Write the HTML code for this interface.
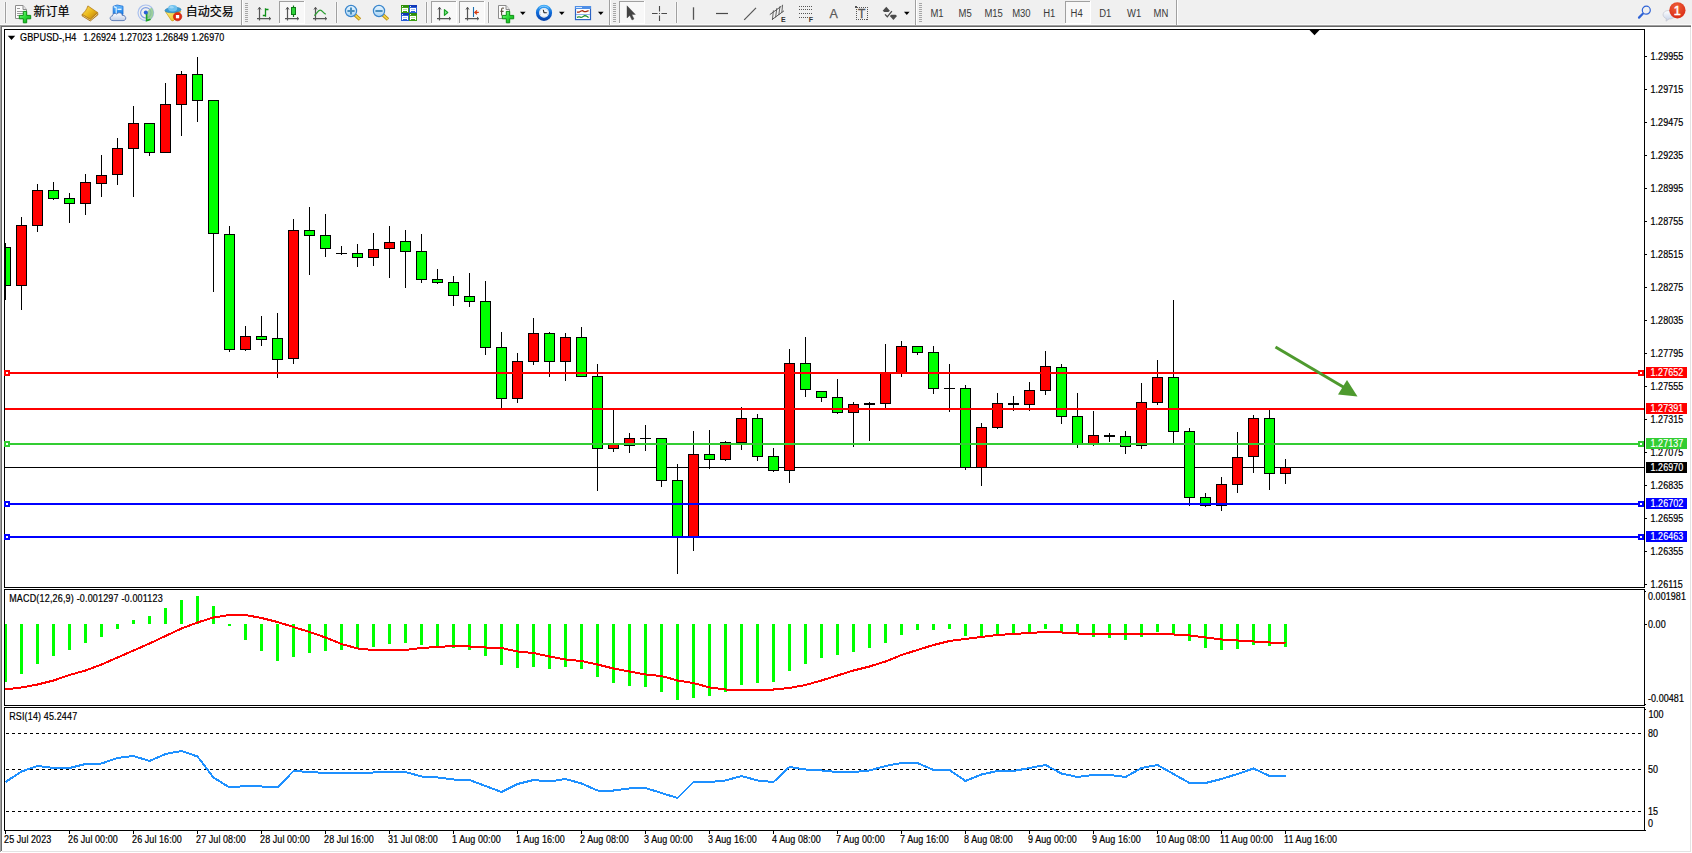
<!DOCTYPE html>
<html lang="zh"><head><meta charset="utf-8"><title>GBPUSD-,H4</title>
<style>
html,body{margin:0;padding:0;background:#fff;}
body{width:1692px;height:853px;overflow:hidden;position:relative;font-family:"Liberation Sans", "Noto Sans CJK SC", sans-serif;}
svg{position:absolute;left:0;top:0;display:block;}
.cr{shape-rendering:crispEdges;}
text{font-family:"Liberation Sans", "Noto Sans CJK SC", sans-serif;}
.ax{font-size:9px;fill:#000;stroke:#000;stroke-width:.18px;letter-spacing:.06px;}
.lb{font-size:9px;fill:#fff;stroke:#fff;stroke-width:.15px;letter-spacing:.06px;}
.tb{font-size:12px;fill:#000;stroke:#000;stroke-width:.2px;}
.pd{font-size:9.5px;fill:#3a3a3a;}
</style></head><body>
<svg width="1692" height="853" viewBox="0 0 1692 853">
<g class="cr">
<rect x="0" y="0" width="1692" height="853" fill="#fff"/>
<rect x="0" y="0" width="1692" height="25" fill="#f0f0f0"/>
<rect x="0" y="24" width="1692" height="1" fill="#fafafa"/>
<rect x="0" y="25" width="1691" height="1" fill="#a0a0a0"/>
<rect x="0" y="26" width="1691" height="1" fill="#696969"/>
<rect x="0" y="25" width="1" height="827" fill="#a0a0a0"/>
<rect x="1" y="26" width="1" height="825" fill="#696969"/>
<rect x="1690" y="27" width="1" height="825" fill="#e3e3e3"/>
<rect x="2" y="851" width="1689" height="1" fill="#e3e3e3"/>
<rect x="4.5" y="29.5" width="1640" height="558" fill="none" stroke="#000" stroke-width="1"/>
<rect x="4.5" y="589.5" width="1640" height="116" fill="none" stroke="#000" stroke-width="1"/>
<rect x="4.5" y="707.5" width="1640" height="123" fill="none" stroke="#000" stroke-width="1"/>
</g>
<g class="cr" fill="#000">
<rect x="1645" y="56" width="2" height="1"/>
<rect x="1645" y="89" width="2" height="1"/>
<rect x="1645" y="122" width="2" height="1"/>
<rect x="1645" y="155" width="2" height="1"/>
<rect x="1645" y="188" width="2" height="1"/>
<rect x="1645" y="221" width="2" height="1"/>
<rect x="1645" y="254" width="2" height="1"/>
<rect x="1645" y="287" width="2" height="1"/>
<rect x="1645" y="320" width="2" height="1"/>
<rect x="1645" y="353" width="2" height="1"/>
<rect x="1645" y="386" width="2" height="1"/>
<rect x="1645" y="419" width="2" height="1"/>
<rect x="1645" y="452" width="2" height="1"/>
<rect x="1645" y="485" width="2" height="1"/>
<rect x="1645" y="518" width="2" height="1"/>
<rect x="1645" y="551" width="2" height="1"/>
<rect x="1645" y="584" width="2" height="1"/>
<rect x="1645" y="624" width="2" height="1"/>
<rect x="1645" y="591" width="1" height="1"/><rect x="1645" y="704" width="1" height="1"/><rect x="1645" y="709" width="1" height="1"/><rect x="1645" y="830" width="1" height="1"/>
</g>
<g class="ax">
<text transform="translate(1650.5 59.9) scale(1 1.15)">1.29955</text>
<text transform="translate(1650.5 92.9) scale(1 1.15)">1.29715</text>
<text transform="translate(1650.5 125.9) scale(1 1.15)">1.29475</text>
<text transform="translate(1650.5 158.9) scale(1 1.15)">1.29235</text>
<text transform="translate(1650.5 191.9) scale(1 1.15)">1.28995</text>
<text transform="translate(1650.5 224.9) scale(1 1.15)">1.28755</text>
<text transform="translate(1650.5 257.9) scale(1 1.15)">1.28515</text>
<text transform="translate(1650.5 290.9) scale(1 1.15)">1.28275</text>
<text transform="translate(1650.5 323.9) scale(1 1.15)">1.28035</text>
<text transform="translate(1650.5 356.9) scale(1 1.15)">1.27795</text>
<text transform="translate(1650.5 389.9) scale(1 1.15)">1.27555</text>
<text transform="translate(1650.5 422.9) scale(1 1.15)">1.27315</text>
<text transform="translate(1650.5 455.9) scale(1 1.15)">1.27075</text>
<text transform="translate(1650.5 488.9) scale(1 1.15)">1.26835</text>
<text transform="translate(1650.5 521.9) scale(1 1.15)">1.26595</text>
<text transform="translate(1650.5 554.9) scale(1 1.15)">1.26355</text>
<text transform="translate(1650.5 587.9) scale(1 1.15)">1.26115</text>
<text transform="translate(1648 600.3) scale(1 1.15)">0.001981</text>
<text transform="translate(1648 628.2) scale(1 1.15)">0.00</text>
<text transform="translate(1648 702.3) scale(1 1.15)">-0.00481</text>
<text transform="translate(1648.5 718.3) scale(1 1.15)">100</text>
<text transform="translate(1648 737.2) scale(1 1.15)">80</text>
<text transform="translate(1648 773.3) scale(1 1.15)">50</text>
<text transform="translate(1648 815.3) scale(1 1.15)">15</text>
<text transform="translate(1648 827.3) scale(1 1.15)">0</text>
</g>
<g class="cr" fill="#000">
<rect x="5" y="831" width="1" height="3"/>
<rect x="69" y="831" width="1" height="3"/>
<rect x="133" y="831" width="1" height="3"/>
<rect x="197" y="831" width="1" height="3"/>
<rect x="261" y="831" width="1" height="3"/>
<rect x="325" y="831" width="1" height="3"/>
<rect x="389" y="831" width="1" height="3"/>
<rect x="453" y="831" width="1" height="3"/>
<rect x="517" y="831" width="1" height="3"/>
<rect x="581" y="831" width="1" height="3"/>
<rect x="645" y="831" width="1" height="3"/>
<rect x="709" y="831" width="1" height="3"/>
<rect x="773" y="831" width="1" height="3"/>
<rect x="837" y="831" width="1" height="3"/>
<rect x="901" y="831" width="1" height="3"/>
<rect x="965" y="831" width="1" height="3"/>
<rect x="1029" y="831" width="1" height="3"/>
<rect x="1093" y="831" width="1" height="3"/>
<rect x="1157" y="831" width="1" height="3"/>
<rect x="1221" y="831" width="1" height="3"/>
<rect x="1285" y="831" width="1" height="3"/>
</g>
<g class="ax">
<text transform="translate(4.1 843.3) scale(1 1.15)">25 Jul 2023</text>
<text transform="translate(68.1 843.3) scale(1 1.15)">26 Jul 00:00</text>
<text transform="translate(132.1 843.3) scale(1 1.15)">26 Jul 16:00</text>
<text transform="translate(196.1 843.3) scale(1 1.15)">27 Jul 08:00</text>
<text transform="translate(260.1 843.3) scale(1 1.15)">28 Jul 00:00</text>
<text transform="translate(324.1 843.3) scale(1 1.15)">28 Jul 16:00</text>
<text transform="translate(388.1 843.3) scale(1 1.15)">31 Jul 08:00</text>
<text transform="translate(452.1 843.3) scale(1 1.15)">1 Aug 00:00</text>
<text transform="translate(516.1 843.3) scale(1 1.15)">1 Aug 16:00</text>
<text transform="translate(580.1 843.3) scale(1 1.15)">2 Aug 08:00</text>
<text transform="translate(644.1 843.3) scale(1 1.15)">3 Aug 00:00</text>
<text transform="translate(708.1 843.3) scale(1 1.15)">3 Aug 16:00</text>
<text transform="translate(772.1 843.3) scale(1 1.15)">4 Aug 08:00</text>
<text transform="translate(836.1 843.3) scale(1 1.15)">7 Aug 00:00</text>
<text transform="translate(900.1 843.3) scale(1 1.15)">7 Aug 16:00</text>
<text transform="translate(964.1 843.3) scale(1 1.15)">8 Aug 08:00</text>
<text transform="translate(1028.1 843.3) scale(1 1.15)">9 Aug 00:00</text>
<text transform="translate(1092.1 843.3) scale(1 1.15)">9 Aug 16:00</text>
<text transform="translate(1156.1 843.3) scale(1 1.15)">10 Aug 08:00</text>
<text transform="translate(1220.1 843.3) scale(1 1.15)">11 Aug 00:00</text>
<text transform="translate(1284.1 843.3) scale(1 1.15)">11 Aug 16:00</text>
</g>
<g class="cr">
<rect x="5" y="467" width="1639" height="1" fill="#000"/>
<rect x="5" y="243" width="1" height="57" fill="#000"/>
<rect x="5" y="247" width="6" height="39" fill="#000"/>
<rect x="6" y="248" width="4" height="37" fill="#00ff00"/>
<rect x="21" y="217" width="1" height="93" fill="#000"/>
<rect x="16" y="225" width="11" height="61" fill="#000"/>
<rect x="17" y="226" width="9" height="59" fill="#ff0000"/>
<rect x="37" y="184" width="1" height="48" fill="#000"/>
<rect x="32" y="190" width="11" height="36" fill="#000"/>
<rect x="33" y="191" width="9" height="34" fill="#ff0000"/>
<rect x="53" y="182" width="1" height="18" fill="#000"/>
<rect x="48" y="190" width="11" height="9" fill="#000"/>
<rect x="49" y="191" width="9" height="7" fill="#00ff00"/>
<rect x="69" y="193" width="1" height="30" fill="#000"/>
<rect x="64" y="198" width="11" height="6" fill="#000"/>
<rect x="65" y="199" width="9" height="4" fill="#00ff00"/>
<rect x="85" y="174" width="1" height="41" fill="#000"/>
<rect x="80" y="182" width="11" height="22" fill="#000"/>
<rect x="81" y="183" width="9" height="20" fill="#ff0000"/>
<rect x="101" y="155" width="1" height="42" fill="#000"/>
<rect x="96" y="175" width="11" height="9" fill="#000"/>
<rect x="97" y="176" width="9" height="7" fill="#ff0000"/>
<rect x="117" y="138" width="1" height="47" fill="#000"/>
<rect x="112" y="148" width="11" height="27" fill="#000"/>
<rect x="113" y="149" width="9" height="25" fill="#ff0000"/>
<rect x="133" y="106" width="1" height="91" fill="#000"/>
<rect x="128" y="123" width="11" height="26" fill="#000"/>
<rect x="129" y="124" width="9" height="24" fill="#ff0000"/>
<rect x="149" y="123" width="1" height="33" fill="#000"/>
<rect x="144" y="123" width="11" height="30" fill="#000"/>
<rect x="145" y="124" width="9" height="28" fill="#00ff00"/>
<rect x="165" y="83" width="1" height="70" fill="#000"/>
<rect x="160" y="104" width="11" height="49" fill="#000"/>
<rect x="161" y="105" width="9" height="47" fill="#ff0000"/>
<rect x="181" y="71" width="1" height="65" fill="#000"/>
<rect x="176" y="74" width="11" height="31" fill="#000"/>
<rect x="177" y="75" width="9" height="29" fill="#ff0000"/>
<rect x="197" y="57" width="1" height="65" fill="#000"/>
<rect x="192" y="74" width="11" height="27" fill="#000"/>
<rect x="193" y="75" width="9" height="25" fill="#00ff00"/>
<rect x="213" y="100" width="1" height="192" fill="#000"/>
<rect x="208" y="100" width="11" height="134" fill="#000"/>
<rect x="209" y="101" width="9" height="132" fill="#00ff00"/>
<rect x="229" y="226" width="1" height="126" fill="#000"/>
<rect x="224" y="234" width="11" height="116" fill="#000"/>
<rect x="225" y="235" width="9" height="114" fill="#00ff00"/>
<rect x="245" y="326" width="1" height="25" fill="#000"/>
<rect x="240" y="336" width="11" height="14" fill="#000"/>
<rect x="241" y="337" width="9" height="12" fill="#ff0000"/>
<rect x="261" y="316" width="1" height="30" fill="#000"/>
<rect x="256" y="336" width="11" height="4" fill="#000"/>
<rect x="257" y="337" width="9" height="2" fill="#00ff00"/>
<rect x="277" y="313" width="1" height="65" fill="#000"/>
<rect x="272" y="338" width="11" height="22" fill="#000"/>
<rect x="273" y="339" width="9" height="20" fill="#00ff00"/>
<rect x="293" y="219" width="1" height="145" fill="#000"/>
<rect x="288" y="230" width="11" height="129" fill="#000"/>
<rect x="289" y="231" width="9" height="127" fill="#ff0000"/>
<rect x="309" y="207" width="1" height="68" fill="#000"/>
<rect x="304" y="230" width="11" height="6" fill="#000"/>
<rect x="305" y="231" width="9" height="4" fill="#00ff00"/>
<rect x="325" y="214" width="1" height="43" fill="#000"/>
<rect x="320" y="235" width="11" height="14" fill="#000"/>
<rect x="321" y="236" width="9" height="12" fill="#00ff00"/>
<rect x="341" y="246" width="1" height="9" fill="#000"/>
<rect x="336" y="253" width="11" height="1" fill="#000"/>
<rect x="357" y="244" width="1" height="23" fill="#000"/>
<rect x="352" y="253" width="11" height="5" fill="#000"/>
<rect x="353" y="254" width="9" height="3" fill="#00ff00"/>
<rect x="373" y="233" width="1" height="33" fill="#000"/>
<rect x="368" y="249" width="11" height="9" fill="#000"/>
<rect x="369" y="250" width="9" height="7" fill="#ff0000"/>
<rect x="389" y="226" width="1" height="52" fill="#000"/>
<rect x="384" y="242" width="11" height="7" fill="#000"/>
<rect x="385" y="243" width="9" height="5" fill="#ff0000"/>
<rect x="405" y="230" width="1" height="58" fill="#000"/>
<rect x="400" y="241" width="11" height="11" fill="#000"/>
<rect x="401" y="242" width="9" height="9" fill="#00ff00"/>
<rect x="421" y="234" width="1" height="49" fill="#000"/>
<rect x="416" y="251" width="11" height="29" fill="#000"/>
<rect x="417" y="252" width="9" height="27" fill="#00ff00"/>
<rect x="437" y="269" width="1" height="15" fill="#000"/>
<rect x="432" y="279" width="11" height="4" fill="#000"/>
<rect x="433" y="280" width="9" height="2" fill="#00ff00"/>
<rect x="453" y="276" width="1" height="30" fill="#000"/>
<rect x="448" y="282" width="11" height="14" fill="#000"/>
<rect x="449" y="283" width="9" height="12" fill="#00ff00"/>
<rect x="469" y="273" width="1" height="34" fill="#000"/>
<rect x="464" y="296" width="11" height="6" fill="#000"/>
<rect x="465" y="297" width="9" height="4" fill="#00ff00"/>
<rect x="485" y="281" width="1" height="74" fill="#000"/>
<rect x="480" y="301" width="11" height="47" fill="#000"/>
<rect x="481" y="302" width="9" height="45" fill="#00ff00"/>
<rect x="501" y="332" width="1" height="76" fill="#000"/>
<rect x="496" y="347" width="11" height="52" fill="#000"/>
<rect x="497" y="348" width="9" height="50" fill="#00ff00"/>
<rect x="517" y="353" width="1" height="50" fill="#000"/>
<rect x="512" y="361" width="11" height="38" fill="#000"/>
<rect x="513" y="362" width="9" height="36" fill="#ff0000"/>
<rect x="533" y="318" width="1" height="47" fill="#000"/>
<rect x="528" y="333" width="11" height="29" fill="#000"/>
<rect x="529" y="334" width="9" height="27" fill="#ff0000"/>
<rect x="549" y="332" width="1" height="45" fill="#000"/>
<rect x="544" y="333" width="11" height="29" fill="#000"/>
<rect x="545" y="334" width="9" height="27" fill="#00ff00"/>
<rect x="565" y="333" width="1" height="48" fill="#000"/>
<rect x="560" y="337" width="11" height="25" fill="#000"/>
<rect x="561" y="338" width="9" height="23" fill="#ff0000"/>
<rect x="581" y="327" width="1" height="50" fill="#000"/>
<rect x="576" y="337" width="11" height="40" fill="#000"/>
<rect x="577" y="338" width="9" height="38" fill="#00ff00"/>
<rect x="597" y="364" width="1" height="127" fill="#000"/>
<rect x="592" y="376" width="11" height="73" fill="#000"/>
<rect x="593" y="377" width="9" height="71" fill="#00ff00"/>
<rect x="613" y="410" width="1" height="42" fill="#000"/>
<rect x="608" y="444" width="11" height="5" fill="#000"/>
<rect x="609" y="445" width="9" height="3" fill="#ff0000"/>
<rect x="629" y="433" width="1" height="20" fill="#000"/>
<rect x="624" y="438" width="11" height="8" fill="#000"/>
<rect x="625" y="439" width="9" height="6" fill="#ff0000"/>
<rect x="645" y="425" width="1" height="26" fill="#000"/>
<rect x="640" y="438" width="11" height="1" fill="#000"/>
<rect x="661" y="438" width="1" height="49" fill="#000"/>
<rect x="656" y="438" width="11" height="43" fill="#000"/>
<rect x="657" y="439" width="9" height="41" fill="#00ff00"/>
<rect x="677" y="464" width="1" height="110" fill="#000"/>
<rect x="672" y="480" width="11" height="57" fill="#000"/>
<rect x="673" y="481" width="9" height="55" fill="#00ff00"/>
<rect x="693" y="431" width="1" height="120" fill="#000"/>
<rect x="688" y="454" width="11" height="83" fill="#000"/>
<rect x="689" y="455" width="9" height="81" fill="#ff0000"/>
<rect x="709" y="430" width="1" height="39" fill="#000"/>
<rect x="704" y="454" width="11" height="6" fill="#000"/>
<rect x="705" y="455" width="9" height="4" fill="#00ff00"/>
<rect x="725" y="441" width="1" height="20" fill="#000"/>
<rect x="720" y="442" width="11" height="18" fill="#000"/>
<rect x="721" y="443" width="9" height="16" fill="#ff0000"/>
<rect x="741" y="407" width="1" height="43" fill="#000"/>
<rect x="736" y="418" width="11" height="25" fill="#000"/>
<rect x="737" y="419" width="9" height="23" fill="#ff0000"/>
<rect x="757" y="414" width="1" height="47" fill="#000"/>
<rect x="752" y="418" width="11" height="39" fill="#000"/>
<rect x="753" y="419" width="9" height="37" fill="#00ff00"/>
<rect x="773" y="448" width="1" height="24" fill="#000"/>
<rect x="768" y="456" width="11" height="15" fill="#000"/>
<rect x="769" y="457" width="9" height="13" fill="#00ff00"/>
<rect x="789" y="349" width="1" height="134" fill="#000"/>
<rect x="784" y="363" width="11" height="108" fill="#000"/>
<rect x="785" y="364" width="9" height="106" fill="#ff0000"/>
<rect x="805" y="337" width="1" height="60" fill="#000"/>
<rect x="800" y="363" width="11" height="27" fill="#000"/>
<rect x="801" y="364" width="9" height="25" fill="#00ff00"/>
<rect x="821" y="391" width="1" height="11" fill="#000"/>
<rect x="816" y="391" width="11" height="7" fill="#000"/>
<rect x="817" y="392" width="9" height="5" fill="#00ff00"/>
<rect x="837" y="379" width="1" height="35" fill="#000"/>
<rect x="832" y="397" width="11" height="16" fill="#000"/>
<rect x="833" y="398" width="9" height="14" fill="#00ff00"/>
<rect x="853" y="402" width="1" height="45" fill="#000"/>
<rect x="848" y="404" width="11" height="9" fill="#000"/>
<rect x="849" y="405" width="9" height="7" fill="#ff0000"/>
<rect x="869" y="402" width="1" height="39" fill="#000"/>
<rect x="864" y="403" width="11" height="2" fill="#000"/>
<rect x="885" y="344" width="1" height="64" fill="#000"/>
<rect x="880" y="372" width="11" height="32" fill="#000"/>
<rect x="881" y="373" width="9" height="30" fill="#ff0000"/>
<rect x="901" y="341" width="1" height="36" fill="#000"/>
<rect x="896" y="346" width="11" height="27" fill="#000"/>
<rect x="897" y="347" width="9" height="25" fill="#ff0000"/>
<rect x="917" y="346" width="1" height="9" fill="#000"/>
<rect x="912" y="346" width="11" height="7" fill="#000"/>
<rect x="913" y="347" width="9" height="5" fill="#00ff00"/>
<rect x="933" y="346" width="1" height="48" fill="#000"/>
<rect x="928" y="352" width="11" height="37" fill="#000"/>
<rect x="929" y="353" width="9" height="35" fill="#00ff00"/>
<rect x="949" y="364" width="1" height="48" fill="#000"/>
<rect x="944" y="388" width="11" height="1" fill="#000"/>
<rect x="965" y="385" width="1" height="85" fill="#000"/>
<rect x="960" y="388" width="11" height="80" fill="#000"/>
<rect x="961" y="389" width="9" height="78" fill="#00ff00"/>
<rect x="981" y="423" width="1" height="63" fill="#000"/>
<rect x="976" y="427" width="11" height="41" fill="#000"/>
<rect x="977" y="428" width="9" height="39" fill="#ff0000"/>
<rect x="997" y="393" width="1" height="36" fill="#000"/>
<rect x="992" y="403" width="11" height="25" fill="#000"/>
<rect x="993" y="404" width="9" height="23" fill="#ff0000"/>
<rect x="1013" y="396" width="1" height="15" fill="#000"/>
<rect x="1008" y="403" width="11" height="2" fill="#000"/>
<rect x="1029" y="382" width="1" height="29" fill="#000"/>
<rect x="1024" y="390" width="11" height="15" fill="#000"/>
<rect x="1025" y="391" width="9" height="13" fill="#ff0000"/>
<rect x="1045" y="351" width="1" height="44" fill="#000"/>
<rect x="1040" y="366" width="11" height="25" fill="#000"/>
<rect x="1041" y="367" width="9" height="23" fill="#ff0000"/>
<rect x="1061" y="364" width="1" height="60" fill="#000"/>
<rect x="1056" y="367" width="11" height="50" fill="#000"/>
<rect x="1057" y="368" width="9" height="48" fill="#00ff00"/>
<rect x="1077" y="393" width="1" height="55" fill="#000"/>
<rect x="1072" y="416" width="11" height="28" fill="#000"/>
<rect x="1073" y="417" width="9" height="26" fill="#00ff00"/>
<rect x="1093" y="411" width="1" height="35" fill="#000"/>
<rect x="1088" y="435" width="11" height="9" fill="#000"/>
<rect x="1089" y="436" width="9" height="7" fill="#ff0000"/>
<rect x="1109" y="433" width="1" height="9" fill="#000"/>
<rect x="1104" y="435" width="11" height="2" fill="#000"/>
<rect x="1125" y="431" width="1" height="23" fill="#000"/>
<rect x="1120" y="436" width="11" height="11" fill="#000"/>
<rect x="1121" y="437" width="9" height="9" fill="#00ff00"/>
<rect x="1141" y="383" width="1" height="66" fill="#000"/>
<rect x="1136" y="402" width="11" height="44" fill="#000"/>
<rect x="1137" y="403" width="9" height="42" fill="#ff0000"/>
<rect x="1157" y="360" width="1" height="45" fill="#000"/>
<rect x="1152" y="377" width="11" height="26" fill="#000"/>
<rect x="1153" y="378" width="9" height="24" fill="#ff0000"/>
<rect x="1173" y="300" width="1" height="143" fill="#000"/>
<rect x="1168" y="377" width="11" height="55" fill="#000"/>
<rect x="1169" y="378" width="9" height="53" fill="#00ff00"/>
<rect x="1189" y="428" width="1" height="78" fill="#000"/>
<rect x="1184" y="431" width="11" height="67" fill="#000"/>
<rect x="1185" y="432" width="9" height="65" fill="#00ff00"/>
<rect x="1205" y="493" width="1" height="14" fill="#000"/>
<rect x="1200" y="497" width="11" height="9" fill="#000"/>
<rect x="1201" y="498" width="9" height="7" fill="#00ff00"/>
<rect x="1221" y="477" width="1" height="34" fill="#000"/>
<rect x="1216" y="484" width="11" height="22" fill="#000"/>
<rect x="1217" y="485" width="9" height="20" fill="#ff0000"/>
<rect x="1237" y="432" width="1" height="61" fill="#000"/>
<rect x="1232" y="457" width="11" height="28" fill="#000"/>
<rect x="1233" y="458" width="9" height="26" fill="#ff0000"/>
<rect x="1253" y="415" width="1" height="58" fill="#000"/>
<rect x="1248" y="418" width="11" height="39" fill="#000"/>
<rect x="1249" y="419" width="9" height="37" fill="#ff0000"/>
<rect x="1269" y="410" width="1" height="80" fill="#000"/>
<rect x="1264" y="418" width="11" height="56" fill="#000"/>
<rect x="1265" y="419" width="9" height="54" fill="#00ff00"/>
<rect x="1285" y="459" width="1" height="25" fill="#000"/>
<rect x="1280" y="467" width="11" height="7" fill="#000"/>
<rect x="1281" y="468" width="9" height="5" fill="#ff0000"/>
<rect x="5" y="372" width="1639" height="2" fill="#ff0000"/>
<rect x="4" y="370" width="6" height="6" fill="#ff0000"/>
<rect x="6" y="372" width="2" height="2" fill="#fff"/>
<rect x="1638" y="370" width="6" height="6" fill="#ff0000"/>
<rect x="1640" y="372" width="2" height="2" fill="#fff"/>
<rect x="5" y="408" width="1639" height="2" fill="#ff0000"/>
<rect x="5" y="443" width="1639" height="2" fill="#32cd32"/>
<rect x="4" y="441" width="6" height="6" fill="#32cd32"/>
<rect x="6" y="443" width="2" height="2" fill="#fff"/>
<rect x="1638" y="441" width="6" height="6" fill="#32cd32"/>
<rect x="1640" y="443" width="2" height="2" fill="#fff"/>
<rect x="5" y="503" width="1639" height="2" fill="#0000ff"/>
<rect x="4" y="501" width="6" height="6" fill="#0000ff"/>
<rect x="6" y="503" width="2" height="2" fill="#fff"/>
<rect x="1638" y="501" width="6" height="6" fill="#0000ff"/>
<rect x="1640" y="503" width="2" height="2" fill="#fff"/>
<rect x="5" y="536" width="1639" height="2" fill="#0000ff"/>
<rect x="4" y="534" width="6" height="6" fill="#0000ff"/>
<rect x="6" y="536" width="2" height="2" fill="#fff"/>
<rect x="1638" y="534" width="6" height="6" fill="#0000ff"/>
<rect x="1640" y="536" width="2" height="2" fill="#fff"/>
<rect x="1646" y="367" width="41" height="11" fill="#ff0000"/>
<rect x="1646" y="403" width="41" height="11" fill="#ff0000"/>
<rect x="1646" y="438" width="41" height="11" fill="#32cd32"/>
<rect x="1646" y="462" width="41" height="11" fill="#000"/>
<rect x="1646" y="498" width="41" height="11" fill="#0000ff"/>
<rect x="1646" y="531" width="41" height="11" fill="#0000ff"/>
</g>
<path d="M1309.5 30 L1319.5 30 L1314.5 35.3 Z" fill="#000"/>
<g class="lb">
<text transform="translate(1650.5 376.1) scale(1 1.15)">1.27652</text>
<text transform="translate(1650.5 412.1) scale(1 1.15)">1.27391</text>
<text transform="translate(1650.5 447.1) scale(1 1.15)">1.27137</text>
<text transform="translate(1650.5 471.1) scale(1 1.15)">1.26970</text>
<text transform="translate(1650.5 507.1) scale(1 1.15)">1.26702</text>
<text transform="translate(1650.5 540.1) scale(1 1.15)">1.26463</text>
</g>
<path d="M7.8 35.8 L15.2 35.8 L11.5 40 Z" fill="#000"/>
<g class="ax">
<text transform="translate(20 40.7) scale(1 1.15)" textLength="56.5" lengthAdjust="spacingAndGlyphs">GBPUSD-,H4</text>
<text transform="translate(83.2 40.7) scale(1 1.15)">1.26924</text>
<text transform="translate(119.4 40.7) scale(1 1.15)">1.27023</text>
<text transform="translate(155.4 40.7) scale(1 1.15)">1.26849</text>
<text transform="translate(191.4 40.7) scale(1 1.15)">1.26970</text>
<text transform="translate(9.2 602) scale(1 1.15)" textLength="153.5" lengthAdjust="spacing">MACD(12,26,9) -0.001297 -0.001123</text>
<text transform="translate(9.2 720) scale(1 1.15)" textLength="68" lengthAdjust="spacing">RSI(14) 45.2447</text>
</g>
<g stroke="#4e9a2e" fill="#4e9a2e">
<line x1="1275.5" y1="347" x2="1345" y2="388" stroke-width="3"/>
<path d="M1347 380 L1357.5 396.5 L1338 394.5 Z" stroke="none"/>
</g>
<g class="cr" fill="#00ff00">
<rect x="5" y="624" width="2" height="58"/>
<rect x="20" y="624" width="3" height="50"/>
<rect x="36" y="624" width="3" height="40"/>
<rect x="52" y="624" width="3" height="32"/>
<rect x="68" y="624" width="3" height="26"/>
<rect x="84" y="624" width="3" height="19"/>
<rect x="100" y="624" width="3" height="13"/>
<rect x="116" y="624" width="3" height="5"/>
<rect x="132" y="620" width="3" height="4"/>
<rect x="148" y="616" width="3" height="8"/>
<rect x="164" y="608" width="3" height="16"/>
<rect x="180" y="600" width="3" height="24"/>
<rect x="196" y="596" width="3" height="28"/>
<rect x="212" y="606" width="3" height="18"/>
<rect x="228" y="624" width="3" height="2"/>
<rect x="244" y="624" width="3" height="16"/>
<rect x="260" y="624" width="3" height="27"/>
<rect x="276" y="624" width="3" height="37"/>
<rect x="292" y="624" width="3" height="33"/>
<rect x="308" y="624" width="3" height="29"/>
<rect x="324" y="624" width="3" height="27"/>
<rect x="340" y="624" width="3" height="26"/>
<rect x="356" y="624" width="3" height="24"/>
<rect x="372" y="624" width="3" height="23"/>
<rect x="388" y="624" width="3" height="20"/>
<rect x="404" y="624" width="3" height="19"/>
<rect x="420" y="624" width="3" height="21"/>
<rect x="436" y="624" width="3" height="22"/>
<rect x="452" y="624" width="3" height="24"/>
<rect x="468" y="624" width="3" height="26"/>
<rect x="484" y="624" width="3" height="32"/>
<rect x="500" y="624" width="3" height="41"/>
<rect x="516" y="624" width="3" height="44"/>
<rect x="532" y="624" width="3" height="43"/>
<rect x="548" y="624" width="3" height="45"/>
<rect x="564" y="624" width="3" height="43"/>
<rect x="580" y="624" width="3" height="45"/>
<rect x="596" y="624" width="3" height="53"/>
<rect x="612" y="624" width="3" height="59"/>
<rect x="628" y="624" width="3" height="62"/>
<rect x="644" y="624" width="3" height="63"/>
<rect x="660" y="624" width="3" height="68"/>
<rect x="676" y="624" width="3" height="76"/>
<rect x="692" y="624" width="3" height="74"/>
<rect x="708" y="624" width="3" height="72"/>
<rect x="724" y="624" width="3" height="68"/>
<rect x="740" y="624" width="3" height="61"/>
<rect x="756" y="624" width="3" height="59"/>
<rect x="772" y="624" width="3" height="58"/>
<rect x="788" y="624" width="3" height="47"/>
<rect x="804" y="624" width="3" height="40"/>
<rect x="820" y="624" width="3" height="34"/>
<rect x="836" y="624" width="3" height="31"/>
<rect x="852" y="624" width="3" height="28"/>
<rect x="868" y="624" width="3" height="24"/>
<rect x="884" y="624" width="3" height="19"/>
<rect x="900" y="624" width="3" height="11"/>
<rect x="916" y="624" width="3" height="6"/>
<rect x="932" y="624" width="3" height="6"/>
<rect x="948" y="624" width="3" height="5"/>
<rect x="964" y="624" width="3" height="12"/>
<rect x="980" y="624" width="3" height="13"/>
<rect x="996" y="624" width="3" height="11"/>
<rect x="1012" y="624" width="3" height="10"/>
<rect x="1028" y="624" width="3" height="9"/>
<rect x="1044" y="624" width="3" height="5"/>
<rect x="1060" y="624" width="3" height="8"/>
<rect x="1076" y="624" width="3" height="10"/>
<rect x="1092" y="624" width="3" height="13"/>
<rect x="1108" y="624" width="3" height="14"/>
<rect x="1124" y="624" width="3" height="16"/>
<rect x="1140" y="624" width="3" height="13"/>
<rect x="1156" y="624" width="3" height="8"/>
<rect x="1172" y="624" width="3" height="10"/>
<rect x="1188" y="624" width="3" height="17"/>
<rect x="1204" y="624" width="3" height="24"/>
<rect x="1220" y="624" width="3" height="26"/>
<rect x="1236" y="624" width="3" height="25"/>
<rect x="1252" y="624" width="3" height="21"/>
<rect x="1268" y="624" width="3" height="22"/>
<rect x="1284" y="624" width="3" height="23"/>
</g>
<polyline points="5.5,689.5 21.5,687.5 37.5,684.5 53.5,680.5 69.5,675 85.5,670.5 101.5,664.5 117.5,657.5 133.5,650.5 149.5,643.5 165.5,636 181.5,628.5 197.5,622.5 213.5,617.5 229.5,615 245.5,615 261.5,618 277.5,622 293.5,627 309.5,632 325.5,637.5 341.5,644 357.5,648.5 373.5,650 389.5,650 405.5,650 421.5,648 437.5,647 453.5,646 469.5,646.5 485.5,647.5 501.5,648 517.5,651.5 533.5,653 549.5,656.5 565.5,659.5 581.5,661 597.5,664.5 613.5,668.5 629.5,671.5 645.5,674.5 661.5,676 677.5,680.5 693.5,683 709.5,687.5 725.5,689.5 741.5,689.5 757.5,689.5 773.5,689.5 789.5,688 805.5,685 821.5,680.5 837.5,675.5 853.5,670.5 869.5,666.5 885.5,661.5 901.5,655 917.5,650 933.5,645 949.5,641 965.5,639 981.5,637 997.5,635 1013.5,634 1029.5,633 1045.5,632 1061.5,632.5 1077.5,633.5 1093.5,634 1109.5,634 1125.5,634 1141.5,634 1157.5,634 1173.5,634.5 1189.5,635.5 1205.5,637.5 1221.5,639.5 1237.5,640.5 1253.5,641.5 1269.5,642.5 1285.5,643" fill="none" stroke="#ff0000" stroke-width="2" stroke-linejoin="round" shape-rendering="crispEdges"/>
<g class="cr" stroke="#000" stroke-width="1" stroke-dasharray="3 3">
<line x1="6" y1="733.5" x2="1643" y2="733.5"/>
<line x1="6" y1="769.5" x2="1643" y2="769.5"/>
<line x1="6" y1="811.5" x2="1643" y2="811.5"/>
</g>
<polyline points="5.5,782 21.5,771.5 37.5,766 53.5,768 69.5,768 85.5,764 101.5,763.5 117.5,758 133.5,756 149.5,761 165.5,754 181.5,751 197.5,756.5 213.5,777.5 229.5,787.5 245.5,786 261.5,786.5 277.5,787.5 293.5,771 309.5,772 325.5,773 341.5,773 357.5,773 373.5,772.5 389.5,772 405.5,772 421.5,776.5 437.5,777.5 453.5,779.5 469.5,780 485.5,786 501.5,792 517.5,784 533.5,780 549.5,781.5 565.5,779 581.5,783.5 597.5,790.5 613.5,790.5 629.5,788.5 645.5,788 661.5,793 677.5,798 693.5,782 709.5,782 725.5,780.5 741.5,776 757.5,780.5 773.5,782 789.5,767 805.5,769.5 821.5,770.5 837.5,772 853.5,772 869.5,770.5 885.5,766 901.5,763 917.5,763 933.5,770 949.5,770 965.5,781 981.5,774.5 997.5,771 1013.5,771 1029.5,768 1045.5,765 1061.5,773.5 1077.5,777 1093.5,775 1109.5,775 1125.5,777 1141.5,768 1157.5,765 1173.5,774 1189.5,783 1205.5,783 1221.5,779 1237.5,774 1253.5,768.5 1269.5,776 1285.5,776" fill="none" stroke="#1e90ff" stroke-width="2" stroke-linejoin="round" shape-rendering="crispEdges"/>
<rect class="cr" x="5" y="2" width="1" height="21" fill="#a0a0a0"/>
<rect class="cr" x="6" y="2" width="1" height="21" fill="#f8f8f8"/>
<rect class="cr" x="4" y="2" width="1" height="21" fill="#f6f6f6"/>
<path d="M15.5 5.5 H23 L26.5 9.5 V18.5 H15.5 Z" fill="#fcfcfc" stroke="#8c8c8c" stroke-width="1"/>
<path d="M23 5.5 V9.5 H26.5" fill="#e8e8e8" stroke="#8c8c8c" stroke-width="1"/>
<g class="cr" fill="#9a9a9a"><rect x="17" y="8" width="3" height="1"/><rect x="17" y="11" width="6" height="1"/><rect x="17" y="13" width="6" height="1"/><rect x="17" y="15" width="3" height="1"/></g>
<path d="M23.3 11.4 h3.4 v4 h4 v3.4 h-4 v4 h-3.4 v-4 h-4 v-3.4 h4 Z" fill="url(#plus)" stroke="#0b8f12" stroke-width="1" stroke-linejoin="round"/>
<text class="tb" x="33.4" y="16.3">新订单</text>
<defs><linearGradient id="gold" x1="0" y1="0" x2="1" y2="1"><stop offset="0" stop-color="#ffe36a"/><stop offset=".5" stop-color="#eab91a"/><stop offset="1" stop-color="#b9770a"/></linearGradient><linearGradient id="plus" x1="0" y1="0" x2="1" y2="1"><stop offset="0" stop-color="#9dffa0"/><stop offset=".45" stop-color="#2fe03a"/><stop offset="1" stop-color="#0aa514"/></linearGradient><linearGradient id="gold2" x1="0" y1="0" x2="1" y2="1"><stop offset="0" stop-color="#fff27a"/><stop offset="1" stop-color="#e6b41c"/></linearGradient><linearGradient id="sky" x1="0" y1="0" x2="0" y2="1"><stop offset="0" stop-color="#6fc0ff"/><stop offset="1" stop-color="#1279e6"/></linearGradient><linearGradient id="cloud" x1="0" y1="0" x2="0" y2="1"><stop offset="0" stop-color="#ffffff"/><stop offset="1" stop-color="#c3cfe6"/></linearGradient><radialGradient id="badge" cx=".45" cy=".3" r=".8"><stop offset="0" stop-color="#f0603a"/><stop offset="1" stop-color="#d62410"/></radialGradient><linearGradient id="clk" x1="0" y1="0" x2="0" y2="1"><stop offset="0" stop-color="#3aa4f4"/><stop offset=".5" stop-color="#0f6ad8"/><stop offset="1" stop-color="#0846ae"/></linearGradient><linearGradient id="lens" x1="0" y1="0" x2="0" y2="1"><stop offset="0" stop-color="#e8f6ff"/><stop offset="1" stop-color="#a9d4f5"/></linearGradient></defs>
<path d="M82 14.4 L90.2 19.4 L97.7 12.6 L97.9 14.8 L90.3 21 L82 15.8 Z" fill="#c58a16" stroke="#9a620a" stroke-width=".7" stroke-linejoin="round"/>
<path d="M82.6 15.2 L90.3 20 L97.5 13.8" fill="none" stroke="#f6e3a0" stroke-width=".7"/>
<path d="M87.9 5.9 L97.4 12.4 L90.3 19.2 L82.2 14.3 C84.6 12.4 86.8 9.4 87.9 5.9 Z" fill="url(#gold)" stroke="#b47a0c" stroke-width=".8" stroke-linejoin="round"/>
<path d="M113.2 6.4 L117 5 L123 6.2 V14.4 H113.2 Z" fill="url(#sky)" stroke="#1a6fd6" stroke-width=".8"/>
<path d="M113.8 6.6 L116.2 7.6 V14" fill="none" stroke="#d7efff" stroke-width="1.2"/>
<rect x="117.5" y="8.6" width="4" height="1.4" fill="#e6f4ff"/>
<path d="M113 20.6 C109.2 20.6 109.4 16.2 112.4 16 C112.4 13.6 115.4 12.6 116.8 14.2 C118.2 11.8 122.2 12.6 122.2 15.4 C126.4 14.8 127.2 20.6 123 20.6 Z" fill="url(#cloud)" stroke="#5676b4" stroke-width=".9"/>
<g fill="none" stroke-linecap="round">
<circle cx="145.8" cy="12.8" r="7.8" stroke="#a9c0ee" stroke-width="1.2"/>
<circle cx="145.8" cy="12.8" r="5.2" stroke="#7d9de4" stroke-width="1.2"/>
<path d="M146 12.8 L151.4 7.4 A8 8 0 0 1 146.4 20.8 Z" fill="#8cc88a" stroke="none" opacity=".8"/>
<path d="M146.6 13 V20.6 L150 19.6" stroke="#1fa42a" stroke-width="1.6"/>
<circle cx="145.8" cy="12.4" r="2" fill="#2a5fd8" stroke="none"/>
</g>
<path d="M165.3 11.4 L180.8 11.2 L177.4 17 L173 20.9 L171.4 20.5 Z" fill="url(#gold2)" stroke="#c89a10" stroke-width=".7" stroke-linejoin="round"/>
<ellipse cx="173" cy="10" rx="8.1" ry="2.7" transform="rotate(-4 173 10)" fill="#3a9bd2" stroke="#2a7fb4" stroke-width=".6"/>
<ellipse cx="172.7" cy="8.2" rx="4.5" ry="3.3" fill="#6fc1ee"/>
<ellipse cx="171.6" cy="7.2" rx="2" ry="1.2" fill="#a9ddf8" opacity=".8"/>
<circle cx="177.6" cy="16.6" r="4.2" fill="#e02a12" stroke="#b81c08" stroke-width=".6"/>
<rect x="175.9" y="15" width="3.3" height="3.3" fill="#fff"/>
<text class="tb" x="185.8" y="16.2">自动交易</text>
<rect class="cr" x="241" y="0" width="1" height="25" fill="#a0a0a0"/>
<rect class="cr" x="242" y="0" width="1" height="25" fill="#ffffff"/>
<g class="cr" fill="#a6a6a6">
<rect x="245" y="3" width="3" height="1"/>
<rect x="245" y="5" width="3" height="1"/>
<rect x="245" y="7" width="3" height="1"/>
<rect x="245" y="9" width="3" height="1"/>
<rect x="245" y="11" width="3" height="1"/>
<rect x="245" y="13" width="3" height="1"/>
<rect x="245" y="15" width="3" height="1"/>
<rect x="245" y="17" width="3" height="1"/>
<rect x="245" y="19" width="3" height="1"/>
<rect x="245" y="21" width="3" height="1"/>
</g>
<g stroke="#555" stroke-width="1.2" fill="none" stroke-linecap="butt">
<path d="M259.5 7.5 V20.5 M257 18.6 H270.5"/>
<path d="M258 9.5 L259.5 7.3 L261 9.5 M269 17 L270.8 18.6 L269 20.2" stroke-width="1"/>
</g>
<path d="M265.5 8.3 V16.7 M265.5 9.5 H268.5 M265.5 15.5 H262.8" fill="none" stroke="#0f9018" stroke-width="1.3"/>
<g class="cr">
<rect x="279" y="1" width="26" height="23" fill="#f8f8f8"/>
<rect x="279" y="1" width="26" height="1" fill="#a0a0a0"/>
<rect x="279" y="1" width="1" height="23" fill="#a0a0a0"/>
<rect x="279" y="23" width="26" height="1" fill="#ffffff"/>
<rect x="304" y="1" width="1" height="23" fill="#ffffff"/>
</g>
<g stroke="#555" stroke-width="1.2" fill="none" stroke-linecap="butt">
<path d="M287.5 7.5 V20.5 M285 18.6 H298.5"/>
<path d="M286 9.5 L287.5 7.3 L289 9.5 M297 17 L298.8 18.6 L297 20.2" stroke-width="1"/>
</g>
<path d="M293.5 5.5 V17" stroke="#0f7a17" stroke-width="1.2"/>
<rect x="291.5" y="7.5" width="4" height="7" fill="#2fd43a" stroke="#0f7a17" stroke-width="1"/>
<g stroke="#555" stroke-width="1.2" fill="none" stroke-linecap="butt">
<path d="M315.5 7.5 V20.5 M313 18.6 H326.5"/>
<path d="M314 9.5 L315.5 7.3 L317 9.5 M325 17 L326.8 18.6 L325 20.2" stroke-width="1"/>
</g>
<path d="M314.4 15.6 C316.5 13.6 318.2 10.2 320.2 10.2 C322.4 10.2 323.4 13.4 325.8 14.2" fill="none" stroke="#2e9e35" stroke-width="1.3"/>
<rect class="cr" x="336" y="2" width="1" height="21" fill="#a0a0a0"/>
<rect class="cr" x="337" y="2" width="1" height="21" fill="#f8f8f8"/>
<rect class="cr" x="335" y="2" width="1" height="21" fill="#f6f6f6"/>
<path d="M355 15 L360 19.6" stroke="#b8860b" stroke-width="3.4" stroke-linecap="butt"/>
<path d="M355.3 15.2 L359.8 19.3" stroke="#f0d44a" stroke-width="1.8" stroke-linecap="butt"/>
<circle cx="351" cy="11" r="5.6" fill="url(#lens)" stroke="#3a86cc" stroke-width="1.2"/>
<path d="M347.4 11 H354.6" stroke="#4a8fbf" stroke-width="2"/>
<path d="M351 7.4 V14.6" stroke="#4a8fbf" stroke-width="2"/>
<path d="M383 15 L388 19.6" stroke="#b8860b" stroke-width="3.4" stroke-linecap="butt"/>
<path d="M383.3 15.2 L387.8 19.3" stroke="#f0d44a" stroke-width="1.8" stroke-linecap="butt"/>
<circle cx="379" cy="11" r="5.6" fill="url(#lens)" stroke="#3a86cc" stroke-width="1.2"/>
<path d="M375.4 11 H382.6" stroke="#4a8fbf" stroke-width="2"/>
<rect class="cr" x="401" y="5" width="8" height="8" fill="#3ea016"/>
<rect class="cr" x="401" y="5" width="8" height="2" fill="#2f8f0c"/>
<rect class="cr" x="402" y="6" width="1" height="1" fill="#e8f4e0"/>
<rect class="cr" x="402" y="8" width="6" height="4" fill="#fff"/>
<rect class="cr" x="403" y="9" width="4" height="1" fill="#b5e0a0"/>
<rect class="cr" x="403" y="11" width="4" height="1" fill="#3ea016"/>
<rect class="cr" x="409" y="5" width="8" height="8" fill="#2a5fd8"/>
<rect class="cr" x="409" y="5" width="8" height="2" fill="#1038b8"/>
<rect class="cr" x="410" y="6" width="1" height="1" fill="#e8f4e0"/>
<rect class="cr" x="410" y="8" width="6" height="4" fill="#fff"/>
<rect class="cr" x="411" y="9" width="4" height="1" fill="#a9c0f2"/>
<rect class="cr" x="411" y="11" width="4" height="1" fill="#2a5fd8"/>
<rect class="cr" x="401" y="13" width="8" height="8" fill="#2a5fd8"/>
<rect class="cr" x="401" y="13" width="8" height="2" fill="#1038b8"/>
<rect class="cr" x="402" y="14" width="1" height="1" fill="#e8f4e0"/>
<rect class="cr" x="402" y="16" width="6" height="4" fill="#fff"/>
<rect class="cr" x="403" y="17" width="4" height="1" fill="#a9c0f2"/>
<rect class="cr" x="403" y="19" width="4" height="1" fill="#2a5fd8"/>
<rect class="cr" x="409" y="13" width="8" height="8" fill="#3ea016"/>
<rect class="cr" x="409" y="13" width="8" height="2" fill="#2f8f0c"/>
<rect class="cr" x="410" y="14" width="1" height="1" fill="#e8f4e0"/>
<rect class="cr" x="410" y="16" width="6" height="4" fill="#fff"/>
<rect class="cr" x="411" y="17" width="4" height="1" fill="#b5e0a0"/>
<rect class="cr" x="411" y="19" width="4" height="1" fill="#3ea016"/>
<rect class="cr" x="426" y="2" width="1" height="21" fill="#a0a0a0"/>
<rect class="cr" x="427" y="2" width="1" height="21" fill="#f8f8f8"/>
<rect class="cr" x="425" y="2" width="1" height="21" fill="#f6f6f6"/>
<g class="cr">
<rect x="431" y="1" width="26" height="23" fill="#f8f8f8"/>
<rect x="431" y="1" width="26" height="1" fill="#a0a0a0"/>
<rect x="431" y="1" width="1" height="23" fill="#a0a0a0"/>
<rect x="431" y="23" width="26" height="1" fill="#ffffff"/>
<rect x="456" y="1" width="1" height="23" fill="#ffffff"/>
</g>
<g stroke="#555" stroke-width="1.2" fill="none" stroke-linecap="butt">
<path d="M439.5 7.5 V20.5 M437 18.6 H450.5"/>
<path d="M438 9.5 L439.5 7.3 L441 9.5 M449 17 L450.8 18.6 L449 20.2" stroke-width="1"/>
</g>
<path d="M444.4 9.6 L447.8 12.5 L444.4 15.4 Z" fill="#7fe88a" stroke="#16a022" stroke-width="1.1" stroke-linejoin="round"/>
<g class="cr">
<rect x="459" y="1" width="26" height="23" fill="#f8f8f8"/>
<rect x="459" y="1" width="26" height="1" fill="#a0a0a0"/>
<rect x="459" y="1" width="1" height="23" fill="#a0a0a0"/>
<rect x="459" y="23" width="26" height="1" fill="#ffffff"/>
<rect x="484" y="1" width="1" height="23" fill="#ffffff"/>
</g>
<g stroke="#555" stroke-width="1.2" fill="none" stroke-linecap="butt">
<path d="M467.5 7.5 V20.5 M465 18.6 H478.5"/>
<path d="M466 9.5 L467.5 7.3 L469 9.5 M477 17 L478.8 18.6 L477 20.2" stroke-width="1"/>
</g>
<path d="M473.5 7 V17" stroke="#1c6fb0" stroke-width="1.1"/>
<path d="M478.8 12.4 H475 M477 10.4 L474.8 12.4 L477 14.4" fill="none" stroke="#d4380c" stroke-width="1.2"/>
<rect class="cr" x="488" y="2" width="1" height="21" fill="#a0a0a0"/>
<rect class="cr" x="489" y="2" width="1" height="21" fill="#f8f8f8"/>
<rect class="cr" x="487" y="2" width="1" height="21" fill="#f6f6f6"/>
<path d="M498.5 5.5 H506 L509.5 9.5 V18.5 H498.5 Z" fill="#fcfcfc" stroke="#8c8c8c" stroke-width="1"/>
<path d="M506 5.5 V9.5 H509.5" fill="#e8e8e8" stroke="#8c8c8c" stroke-width="1"/>
<path d="M504 8.2 C502.4 7.6 501.6 8 501.6 10 V15.6 M500.4 11.4 H503.6" fill="none" stroke="#5a5040" stroke-width="1.1"/>
<path d="M506.3 11.4 h3.4 v4 h4 v3.4 h-4 v4 h-3.4 v-4 h-4 v-3.4 h4 Z" fill="url(#plus)" stroke="#0b8f12" stroke-width="1" stroke-linejoin="round"/>
<path d="M520 11.8 L525.6 11.8 L522.8 15 Z" fill="#000"/>
<circle cx="544" cy="12.8" r="6.5" fill="#f2f6fc" stroke="url(#clk)" stroke-width="3.2"/>
<path d="M539.2 8.2 A6.6 6.6 0 0 1 548.8 8.2" fill="none" stroke="#8fd0ff" stroke-width="1" opacity=".8"/>
<g fill="#8a8f98">
<circle cx="544.00" cy="8.90" r=".38"/>
<circle cx="545.95" cy="9.42" r=".38"/>
<circle cx="547.38" cy="10.85" r=".38"/>
<circle cx="547.90" cy="12.80" r=".38"/>
<circle cx="547.38" cy="14.75" r=".38"/>
<circle cx="545.95" cy="16.18" r=".38"/>
<circle cx="544.00" cy="16.70" r=".38"/>
<circle cx="542.05" cy="16.18" r=".38"/>
<circle cx="540.62" cy="14.75" r=".38"/>
<circle cx="540.10" cy="12.80" r=".38"/>
<circle cx="540.62" cy="10.85" r=".38"/>
<circle cx="542.05" cy="9.42" r=".38"/>
</g>
<path d="M543.3 9.8 L544 12.7 L546.8 12.7" fill="none" stroke="#222" stroke-width="1.1" stroke-linejoin="round"/>
<path d="M559 11.8 L564.6 11.8 L561.8 15 Z" fill="#000"/>
<rect x="575.5" y="6.6" width="15" height="13" fill="#fdfdfd" stroke="#2b63c4" stroke-width="1.2"/>
<rect class="cr" x="575" y="6" width="16" height="3" fill="#4f8fe6"/>
<rect class="cr" x="576" y="7" width="6" height="1" fill="#d6e8ff"/>
<rect class="cr" x="576" y="14" width="14" height="1" fill="#8fb2ec"/>
<path d="M577 12.2 L579 12.2 L581 11 L582.6 10.6 L584 11.6 L586 11.6 L588.6 10.6" fill="none" stroke="#a8280c" stroke-width="1.2"/>
<path d="M577 17.4 L579 16.8 L581 17.4 L582.4 17 L584.6 15.6 L586 15.8 L588.6 17.6" fill="none" stroke="#138a20" stroke-width="1.2"/>
<path d="M598 11.8 L603.6 11.8 L600.8 15 Z" fill="#000"/>
<rect class="cr" x="609" y="0" width="1" height="25" fill="#a0a0a0"/>
<rect class="cr" x="610" y="0" width="1" height="25" fill="#ffffff"/>
<g class="cr" fill="#a6a6a6">
<rect x="613" y="3" width="3" height="1"/>
<rect x="613" y="5" width="3" height="1"/>
<rect x="613" y="7" width="3" height="1"/>
<rect x="613" y="9" width="3" height="1"/>
<rect x="613" y="11" width="3" height="1"/>
<rect x="613" y="13" width="3" height="1"/>
<rect x="613" y="15" width="3" height="1"/>
<rect x="613" y="17" width="3" height="1"/>
<rect x="613" y="19" width="3" height="1"/>
<rect x="613" y="21" width="3" height="1"/>
</g>
<g class="cr">
<rect x="619" y="1" width="26" height="23" fill="#f8f8f8"/>
<rect x="619" y="1" width="26" height="1" fill="#a0a0a0"/>
<rect x="619" y="1" width="1" height="23" fill="#a0a0a0"/>
<rect x="619" y="23" width="26" height="1" fill="#ffffff"/>
<rect x="644" y="1" width="1" height="23" fill="#ffffff"/>
</g>
<path d="M627 5.8 L627 18 L629.8 15.4 L632 20 L634 19 L631.8 14.6 L635.4 14.4 Z" fill="#444" stroke="#444" stroke-width=".4" stroke-linejoin="round"/>
<path d="M659.5 6 V11.6 M659.5 15.4 V21 M652 13.5 H657.6 M661.4 13.5 H667" stroke="#4a4a4a" stroke-width="1.1"/>
<rect class="cr" x="659" y="13" width="1" height="1" fill="#555"/>
<rect class="cr" x="676" y="2" width="1" height="21" fill="#a0a0a0"/>
<rect class="cr" x="677" y="2" width="1" height="21" fill="#f8f8f8"/>
<rect class="cr" x="675" y="2" width="1" height="21" fill="#f6f6f6"/>
<path d="M693.5 7.3 V19.8" stroke="#555" stroke-width="1.3"/>
<path d="M716 13.5 H728" stroke="#4a4a4a" stroke-width="1.2"/>
<path d="M744.2 19.8 L756 7.8" stroke="#555" stroke-width="1.2"/>
<g stroke="#555" stroke-width="1" fill="none">
<path d="M769.8 14.6 L781.4 6.2 M772 19.6 L784 10.8"/>
<path d="M773.4 10.4 L772.4 20 M776.8 8.2 L775.6 17.4 M780 6.2 L778.8 15 M782.6 4.8 L781.8 12.6" stroke-width=".9"/>
</g>
<text x="781" y="22.2" style="font-size:7px;font-weight:bold" fill="#333">E</text>
<g class="cr" stroke="#555" stroke-width="1" stroke-dasharray="1 1">
<line x1="799" y1="6.5" x2="813" y2="6.5"/>
<line x1="799" y1="9.5" x2="813" y2="9.5"/>
<line x1="799" y1="13.5" x2="813" y2="13.5"/>
<line x1="799" y1="17.5" x2="808" y2="17.5"/>
</g>
<text x="808.8" y="22.2" style="font-size:7px;font-weight:bold" fill="#333">F</text>
<text x="829.5" y="17.9" style="font-size:12.5px" fill="#5a5a5a" stroke="#5a5a5a" stroke-width=".25">A</text>
<rect class="cr" x="856.5" y="7.5" width="11" height="12" fill="none" stroke="#555" stroke-width="1" stroke-dasharray="1 1"/>
<rect class="cr" x="855" y="6" width="2" height="2" fill="#555"/>
<text x="858.1" y="17.9" style="font-size:12px" fill="#555" stroke="#555" stroke-width=".3">T</text>
<g fill="#4a4a4a" stroke="none">
<path d="M882.7 10.8 L886.3 6.7 L889.9 10.8 L888.4 12 L884.2 12 Z"/>
<path d="M889.8 15.9 L891.2 14.8 L895.6 14.8 L897 15.9 L893.4 20 Z"/>
</g>
<path d="M885 14.4 L887.3 16.8 L891.9 11.2" fill="none" stroke="#4a4a4a" stroke-width="1.3"/>
<path d="M904 11.8 L909.6 11.8 L906.8 15 Z" fill="#000"/>
<rect class="cr" x="915" y="0" width="1" height="25" fill="#a0a0a0"/>
<rect class="cr" x="916" y="0" width="1" height="25" fill="#ffffff"/>
<g class="cr" fill="#a6a6a6">
<rect x="919" y="3" width="3" height="1"/>
<rect x="919" y="5" width="3" height="1"/>
<rect x="919" y="7" width="3" height="1"/>
<rect x="919" y="9" width="3" height="1"/>
<rect x="919" y="11" width="3" height="1"/>
<rect x="919" y="13" width="3" height="1"/>
<rect x="919" y="15" width="3" height="1"/>
<rect x="919" y="17" width="3" height="1"/>
<rect x="919" y="19" width="3" height="1"/>
<rect x="919" y="21" width="3" height="1"/>
</g>
<g class="cr">
<rect x="1065" y="1" width="26" height="23" fill="#f8f8f8"/>
<rect x="1065" y="1" width="26" height="1" fill="#a0a0a0"/>
<rect x="1065" y="1" width="1" height="23" fill="#a0a0a0"/>
<rect x="1065" y="23" width="26" height="1" fill="#ffffff"/>
<rect x="1090" y="1" width="1" height="23" fill="#ffffff"/>
</g>
<text class="pd" transform="translate(930.4 17) scale(1 1.1)">M1</text>
<text class="pd" transform="translate(958.6 17) scale(1 1.1)">M5</text>
<text class="pd" transform="translate(984.4 17) scale(1 1.1)">M15</text>
<text class="pd" transform="translate(1012.2 17) scale(1 1.1)">M30</text>
<text class="pd" transform="translate(1043.2 17) scale(1 1.1)">H1</text>
<text class="pd" transform="translate(1070.6 17) scale(1 1.1)">H4</text>
<text class="pd" transform="translate(1099.2 17) scale(1 1.1)">D1</text>
<text class="pd" transform="translate(1127 17) scale(1 1.1)">W1</text>
<text class="pd" transform="translate(1153.6 17) scale(1 1.1)">MN</text>
<rect class="cr" x="1176" y="0" width="1" height="25" fill="#a0a0a0"/>
<rect class="cr" x="1177" y="0" width="1" height="25" fill="#ffffff"/>
<path d="M1642.8 13.8 L1639 17.6" stroke="#2f63d6" stroke-width="2.2" stroke-linecap="round"/>
<circle cx="1646.3" cy="10.2" r="4" fill="none" stroke="#2f63d6" stroke-width="1.2"/>
<path d="M1668.6 10.6 C1663.8 10.6 1662.2 14 1663.6 16.4 C1664.4 17.8 1665.6 18.4 1666.4 18.6 L1666 21.2 L1669 18.9 C1673 19 1675 17 1675 14.8 Z" fill="url(#cloud)" stroke="#c4c7d0" stroke-width=".8"/>
<circle cx="1677.4" cy="10.3" r="8.1" fill="url(#badge)"/>
<text x="1673.7" y="15" style="font-size:12.5px" fill="#fff" stroke="#fff" stroke-width=".45">1</text>

</svg>
</body></html>
